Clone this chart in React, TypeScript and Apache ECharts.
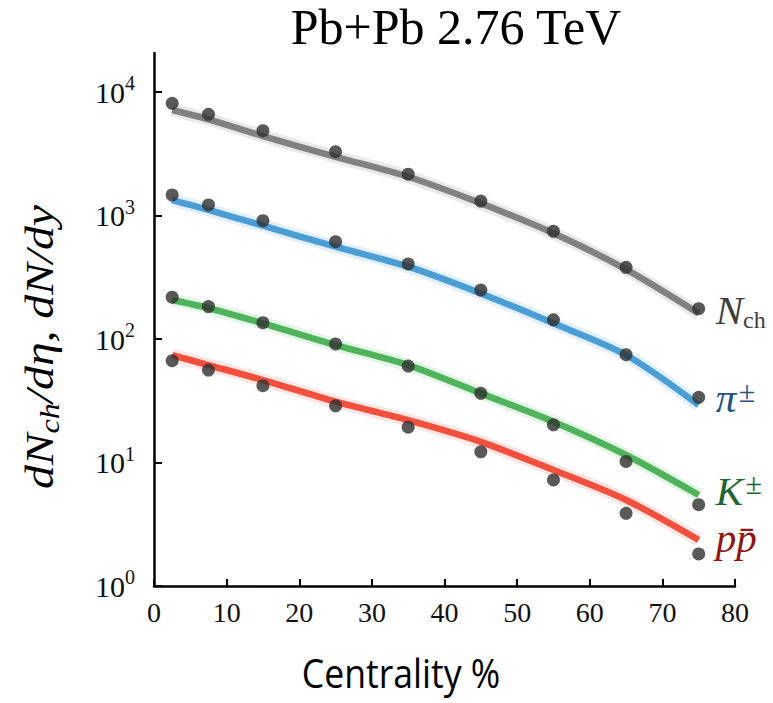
import React, { useEffect, useRef } from 'react';
import * as echarts from 'echarts';

// Centrality bin centres (%)
const centrality = [2.5, 7.5, 15, 25, 35, 45, 55, 65, 75];

// Measured data points
const nchData = [8100, 6600, 4860, 3290, 2160, 1310, 745, 381, 176];
const pionData = [1466, 1217, 908, 614, 405, 249, 143, 74.6, 33.7];
const kaonData = [218, 183, 135.5, 91.2, 60.4, 36.3, 20.2, 10.2, 4.55];
const protonData = [66.7, 56.1, 41.9, 28.8, 19.3, 12.2, 7.22, 3.88, 1.82];

// Model curves
const nchModel = [7150, 6010, 4400, 2990, 2060, 1255, 718, 366, 161];
const pionModel = [1334, 1110, 827, 559, 385, 234, 134, 74.2, 29.2];
const kaonModel = [207, 178, 134, 89.4, 61.5, 36.3, 21.4, 11.5, 5.46];
const protonModel = [74.1, 61.5, 46.5, 31.1, 22.0, 14.7, 8.69, 4.97, 2.36];

const yTicks = [1, 10, 100, 1000, 10000];
const xTicks = [0, 10, 20, 30, 40, 50, 60, 70, 80];

const titleText = 'Pb+Pb 2.76 TeV';
const xLabelText = 'Centrality %';

const SERIF = '"Liberation Serif", "Times New Roman", serif';

const pairs = (xs: number[], ys: number[]) => xs.map((x, i) => [x, ys[i]]);

const groups = [
  { name: 'Nch', model: nchModel, data: nchData, color: '#818181', halo: '#9a9a9a', label: '{i|N}{sub|ch}', labelColor: '#3e3e3e', offset: [0, -3] },
  { name: 'pi', model: pionModel, data: pionData, color: '#4b9dd6', halo: '#7db8e3', label: '{i|π}{sp| }{sup|±}', labelColor: '#24527e', offset: [0, -7] },
  { name: 'K', model: kaonModel, data: kaonData, color: '#4fb35c', halo: '#86cc8e', label: '{i|K}{sp| }{sup|±}', labelColor: '#1e6530', offset: [0, -4] },
  { name: 'p', model: protonModel, data: protonData, color: '#f24f3d', halo: '#f58a7e', label: '{i|pp̄}', labelColor: '#8e1710', offset: [0, -2] },
];

export default function App() {
  const ref = useRef<HTMLDivElement>(null);
  useEffect(() => {
    if (!ref.current) return;
    const chart = echarts.init(ref.current, null, { renderer: 'svg' });
    const series: any[] = [];
    groups.forEach((g) => {
      series.push({
        type: 'line',
        name: g.name + '-halo',
        data: pairs(centrality, g.model),
        smooth: 0.3,
        showSymbol: false,
        silent: true,
        z: 1,
        lineStyle: { color: g.halo, width: 13, opacity: 0.22 },
      });
      series.push({
        type: 'line',
        name: g.name + '-model',
        data: pairs(centrality, g.model),
        smooth: 0.3,
        showSymbol: false,
        z: 2,
        lineStyle: { color: g.color, width: 6.5 },
        endLabel: {
          show: true,
          formatter: () => g.label,
          distance: 17,
          offset: g.offset,
          color: g.labelColor,
          rich: {
            i: { fontFamily: SERIF, fontStyle: 'italic', fontSize: 41, color: g.labelColor, lineHeight: 44 },
            sub: { fontFamily: SERIF, fontSize: 24, color: g.labelColor, verticalAlign: 'bottom', lineHeight: 30 },
            sp: { fontFamily: SERIF, fontSize: 10, lineHeight: 10 },
            sup: { fontFamily: SERIF, fontSize: 30, color: g.labelColor, verticalAlign: 'top', lineHeight: 33 },
          },
        },
      });
      series.push({
        type: 'scatter',
        name: g.name + '-data',
        data: pairs(centrality, g.data),
        symbol: 'circle',
        symbolSize: 13,
        z: 5,
        itemStyle: { color: '#2f2f2f' },
      });
    });

    chart.setOption({
      animation: false,
      grid: { left: 154, right: 38, top: 53, bottom: 117, containLabel: false, outerBoundsMode: 'none' },
      xAxis: {
        type: 'value',
        min: 0,
        max: 80,
        interval: 10,
        splitLine: { show: false },
        axisLine: { show: true, onZero: false, lineStyle: { color: '#000', width: 2.5 } },
        axisTick: { show: true, inside: true, length: 7, lineStyle: { color: '#000', width: 2 }, customValues: xTicks },
        axisLabel: { customValues: xTicks, color: '#111', fontFamily: SERIF, fontSize: 28, margin: 12 },
      },
      yAxis: {
        type: 'log',
        logBase: 10,
        min: 1,
        max: 20700,
        splitLine: { show: false },
        axisLine: { show: true, onZero: false, lineStyle: { color: '#000', width: 2.5 } },
        axisTick: { show: true, inside: true, length: 8, lineStyle: { color: '#000', width: 2 }, customValues: yTicks },
        axisLabel: {
          customValues: yTicks,
          margin: 19,
          formatter: (v: number) => '{b|10}{s|' + Math.round(Math.log10(v)) + '}',
          rich: {
            b: { fontFamily: SERIF, fontSize: 30, color: '#111', lineHeight: 38 },
            s: { fontFamily: SERIF, fontSize: 20, color: '#111', verticalAlign: 'top', lineHeight: 20 },
          },
        },
      },
      graphic: [
        {
          type: 'text',
          x: 456,
          y: 27,
          style: { text: titleText, fontFamily: SERIF, fontSize: 50, fill: '#000', textAlign: 'center', textVerticalAlign: 'middle', align: 'center', verticalAlign: 'middle' },
        },
        {
          type: 'text',
          x: 401,
          y: 673,
          scaleX: 0.89,
          style: { text: xLabelText, fontFamily: '"Open Sans", "Noto Sans", sans-serif', fontSize: 40, fill: '#000', textAlign: 'center', textVerticalAlign: 'middle', align: 'center', verticalAlign: 'middle' },
        },
        {
          type: 'text',
          x: 40,
          y: 347,
          rotation: Math.PI / 2,
          scaleX: 1.19,
          style: {
            text: '{i|dN}{sub|ch}{i|/dη, dN/dy}',
            textAlign: 'center',
            textVerticalAlign: 'middle',
            align: 'center',
            verticalAlign: 'middle',
            fill: '#000',
            rich: {
              i: { fontFamily: SERIF, fontStyle: 'italic', fontSize: 40, fill: '#000', color: '#000', lineHeight: 46 },
              sub: { fontFamily: SERIF, fontStyle: 'italic', fontSize: 27, fill: '#000', color: '#000', verticalAlign: 'bottom', lineHeight: 30 },
            },
          },
        },
      ],
      series,
    });
    return () => chart.dispose();
  }, []);
  return <div ref={ref} style={{ position: 'absolute', left: 0, top: 0, width: 773, height: 703, background: '#fff' }} />;
}
